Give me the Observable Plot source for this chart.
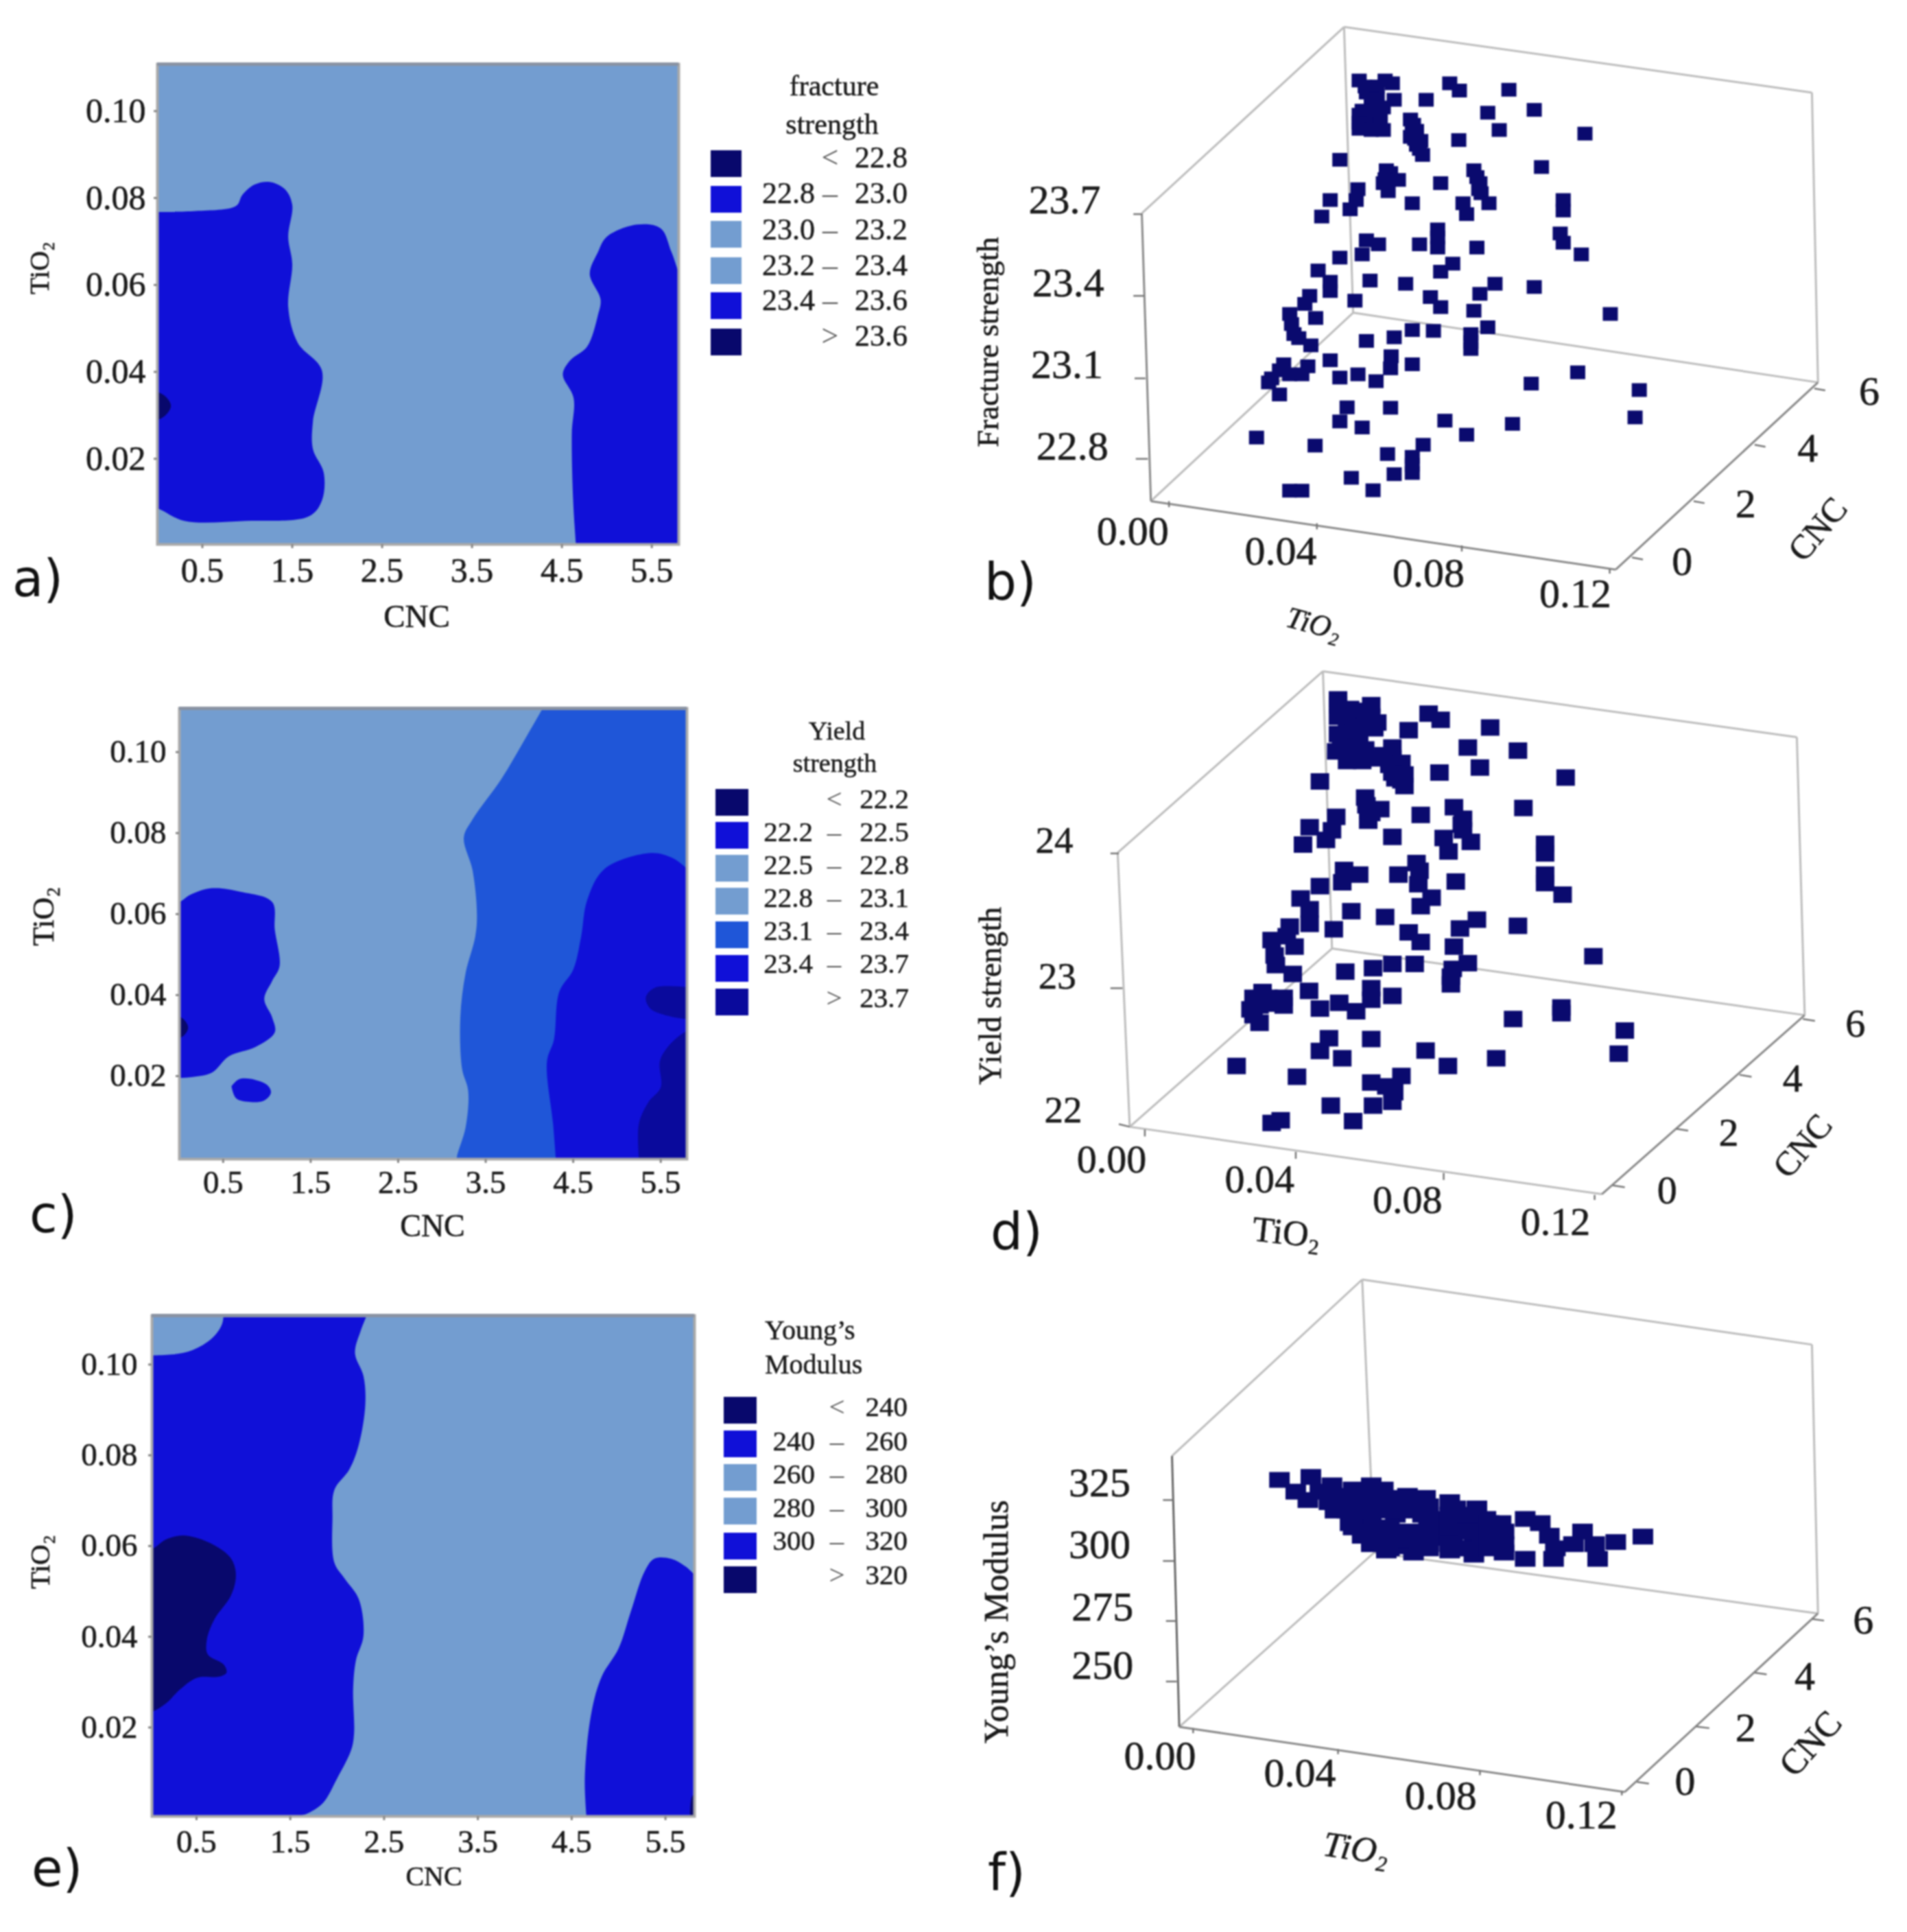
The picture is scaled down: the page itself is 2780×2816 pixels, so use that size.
<!DOCTYPE html>
<html>
<head>
<meta charset="utf-8">
<script src="https://cdn.jsdelivr.net/npm/d3@7"></script>
<script src="https://cdn.jsdelivr.net/npm/@observablehq/plot@0.6"></script>
<style>
html,body{margin:0;padding:0;background:#fff}
#page{position:relative;width:2780px;height:2816px;overflow:hidden;background:#fff;filter:blur(0.9px)}
#page svg{position:absolute;background:transparent;overflow:visible}
#page svg text{stroke:#1a1a1a;stroke-width:0.6px}
.t{position:absolute;white-space:pre;color:#1a1a1a;font-family:"Liberation Serif",serif;line-height:1;-webkit-text-stroke:0.5px #1a1a1a}
.s{position:absolute}
</style>
</head>
<body>
<div id="page"></div>
<script>
// ---------- colours ----------
const LIGHT="#739dd0", BLUE="#1010d8", MID="#1f56d8", NAVY="#08086c", DEEP="#0a0a9c", MARK="#0a0a6e";

// ---------- contour regions: [CNC, TiO2] ----------
const aLeftBlue=[[-.11,.0768],[.43,.077],[.876,.0782],[.944,.0807],[1.08,.0831],[1.25,.0837],[1.42,.082],[1.5,.0784],[1.455,.0711],[1.5,.0648],[1.455,.0549],[1.56,.0467],[1.83,.0403],[1.73,.0286],[1.73,.0222],[1.85,.0168],[1.83,.0104],[1.69,.0068],[.98,.0057],[.3,.0057],[.01,.0085],[-.11,.0091]];
const aLeftNavy=[[-.05,.0358],[.08,.0345],[.15,.0322],[.08,.0298],[-.05,.0285]];
const aRightBlue=[[4.66,-.001],[4.625,.0104],[4.61,.0258],[4.63,.034],[4.51,.0394],[4.59,.0426],[4.78,.0458],[4.9,.053],[4.93,.0567],[4.81,.0625],[4.9,.0675],[5,.0711],[5.34,.0739],[5.6,.073],[5.72,.0675],[5.85,.0612],[5.95,.061],[5.95,-.01],[4.66,-.01]];

const cMidBlue=[[4.17,.112],[3.93,.103],[3.68,.0939],[3.35,.0839],[3.25,.0794],[3.35,.0713],[3.4,.0604],[3.38,.0549],[3.27,.0459],[3.21,.035],[3.23,.0223],[3.3,.0168],[3.27,.0078],[3.17,.0005],[3.17,-.0013],[3.17,-.01],[6,-.01],[6,.12],[4.17,.12]];
const cRightBlue=[[4.3,.0005],[4.27,.0087],[4.2,.0241],[4.28,.0295],[4.34,.0413],[4.5,.0468],[4.59,.0549],[4.66,.064],[4.86,.0717],[5.39,.0756],[5.63,.0744],[5.8,.0717],[5.88,.07],[6,.07],[6,-.01],[4.3,-.01]];
const cDeepLow=[[5.25,.0005],[5.25,.0087],[5.36,.0141],[5.5,.0177],[5.49,.0241],[5.58,.0277],[5.77,.0313],[5.88,.032],[6,.03],[6,-.01],[5.25,-.01]];
const cDeepHigh=[[5.83,.0424],[5.44,.0424],[5.33,.04],[5.38,.0372],[5.58,.0354],[5.83,.0345],[6,.0345],[6,.0424]];
const cLeftBlue=[[-.07,.0635],[0,.0635],[.127,.0653],[.374,.0669],[.705,.066],[1.06,.0635],[1.09,.0567],[1.145,.0477],[1.06,.044],[.97,.0395],[1.06,.035],[1.09,.0313],[.87,.0277],[.567,.0254],[.374,.0214],[.154,.0203],[-.07,.02]];
const cLeftNavy=[[-.05,.0358],[.05,.0345],[.1,.0325],[.05,.0305],[-.05,.0295]];
const cIslandBlue=[[.595,.018],[.678,.0197],[.815,.0198],[1.008,.0182],[1.046,.0164],[.97,.0145],[.815,.0141],[.65,.015],[.595,.018]];

const eLeftBlue=[[2.33,.1115],[2.25,.1074],[2.19,.1025],[2.28,.0975],[2.3,.0913],[2.23,.0823],[2.13,.0769],[1.97,.0724],[1.95,.0662],[1.97,.0563],[2.08,.0528],[2.23,.0483],[2.28,.0402],[2.2,.0348],[2.17,.0285],[2.18,.0187],[2.15,.0151],[2,.0088],[1.85,.0034],[1.69,.0011],[1.54,-.0002],[1.4,-.01],[-.1,-.01],[-.1,.118],[2.33,.118]];
const eCornerLight=[[-.05,.102],[.23,.1022],[.46,.1032],[.666,.1058],[.77,.1088],[.79,.1115],[.79,.118],[-.05,.118]];
const eLeftNavy=[[-.05,.059],[.04,.0595],[.18,.0615],[.38,.0623],[.67,.0604],[.87,.0572],[.92,.0537],[.87,.0492],[.69,.0438],[.61,.0393],[.62,.0361],[.79,.0339],[.82,.0321],[.74,.0312],[.51,.031],[.33,.0285],[.18,.0254],[.04,.0236],[-.05,.0232]];
const eRightBlue=[[4.66,-.0002],[4.64,.0088],[4.71,.0232],[4.82,.0312],[5,.0374],[5.13,.0455],[5.28,.0545],[5.38,.0572],[5.56,.0572],[5.72,.0554],[5.81,.0537],[5.9,.0526],[6,.0526],[6,-.01],[4.66,-.01]];
const eCornerNavy=[[5.76,-.001],[5.79,.005],[5.85,.005],[5.85,-.001]];

// ---------- tick lists ----------
const cncTicks=[.5,1.5,2.5,3.5,4.5,5.5];
const tioTicks=[.02,.04,.06,.08,.10];

// ---------- scatter clouds: position on the picture plane of each 3-D view ----------
const bPoints=[[660,165],[703,165],[715,172],[810,172],[826,190],[908,188],[672,195],[670,180],[690,180],[680,210],[690,210],[680,225],[718,213],[771,213],[700,232],[680,240],[665,240],[672,255],[660,250],[660,270],[685,265],[695,265],[670,272],[660,285],[680,288],[700,288],[873,245],[950,238],[745,262],[750,275],[748,292],[755,290],[892,288],[1034,297],[752,310],[745,305],[762,315],[825,313],[755,325],[760,335],[765,350],[628,362],[705,388],[712,395],[850,388],[703,410],[700,420],[725,412],[962,380],[795,420],[860,420],[855,405],[708,440],[862,445],[858,435],[658,435],[612,462],[655,462],[645,485],[598,503],[748,470],[832,470],[875,470],[838,497],[998,462],[998,488],[790,535],[672,562],[692,572],[790,555],[760,572],[790,580],[993,545],[998,568],[855,580],[665,597],[628,605],[1028,597],[815,620],[795,640],[592,637],[612,665],[612,688],[678,662],[737,670],[885,670],[950,678],[860,695],[578,700],[570,720],[653,712],[778,703],[795,728],[850,737],[1076,745],[545,745],[588,755],[548,770],[552,795],[560,805],[580,823],[748,785],[783,787],[873,778],[845,795],[718,803],[672,812],[845,815],[845,832],[713,850],[712,880],[748,870],[612,860],[535,870],[528,885],[575,875],[565,895],[545,895],[515,905],[510,915],[628,903],[658,895],[688,912],[1022,890],[945,918],[528,945],[1124,934],[640,977],[712,978],[628,1012],[665,1027],[802,1010],[914,1018],[1117,1002],[838,1045],[490,1052],[587,1072],[766,1070],[707,1093],[748,1100],[748,1120],[748,1140],[718,1143],[647,1152],[683,1183],[545,1184],[565,1184]];
const dPoints=[[625,105],[625,120],[645,130],[665,135],[680,120],[775,142],[795,158],[635,135],[625,150],[650,150],[680,150],[690,165],[655,170],[640,175],[670,175],[640,200],[625,195],[650,190],[685,180],[742,185],[877,178],[630,215],[660,205],[622,240],[635,230],[655,230],[670,235],[715,230],[840,230],[923,238],[650,255],[680,258],[700,250],[640,265],[665,265],[715,258],[710,275],[730,270],[725,285],[860,282],[793,295],[715,295],[735,300],[1002,308],[595,318],[720,310],[730,315],[735,330],[670,360],[672,380],[675,395],[680,400],[695,390],[817,385],[932,387],[762,405],[622,410],[675,420],[832,415],[830,430],[578,437],[832,445],[615,445],[605,470],[800,465],[715,462],[845,475],[567,482],[968,480],[968,505],[808,500],[755,530],[635,548],[660,560],[725,560],[760,550],[632,580],[820,578],[758,585],[968,560],[968,582],[595,590],[997,612],[780,620],[762,642],[563,622],[578,650],[578,688],[647,655],[703,670],[855,677],[923,693],[827,700],[545,695],[540,720],[618,702],[742,710],[762,735],[817,747],[1048,772],[515,730],[553,747],[520,770],[522,795],[550,818],[715,792],[752,792],[840,790],[815,805],[683,803],[637,812],[812,825],[812,845],[680,855],[680,885],[715,875],[577,862],[500,865],[510,880],[485,880],[535,880],[515,895],[495,900],[535,900],[480,910],[485,925],[595,908],[627,893],[655,915],[495,945],[995,905],[995,920],[915,935],[1100,965],[610,985],[680,987],[595,1018],[632,1037],[770,1017],[887,1037],[1090,1025],[807,1057],[457,1057],[557,1085],[730,1083],[680,1100],[705,1110],[718,1125],[715,1150],[683,1160],[613,1160],[650,1200],[515,1205],[530,1198]];
const fPoints=[[528,517],[580,510],[615,530],[595,545],[555,545],[575,565],[610,570],[640,555],[680,530],[700,540],[740,555],[770,560],[640,590],[670,580],[700,570],[720,600],[765,600],[742,590],[800,610],[820,585],[855,585],[870,610],[645,620],[680,610],[710,630],[742,640],[780,630],[830,630],[860,630],[895,620],[935,610],[960,620],[665,650],[700,670],[740,675],[775,670],[815,660],[850,665],[895,650],[975,650],[1030,640],[1085,665],[1130,652],[705,685],[750,690],[810,685],[850,695],[900,690],[935,705],[982,705],[985,680],[1015,670],[1050,670],[1055,705],[800,655],[760,650],[830,680],[620,560],[620,590],[650,540],[650,570],[650,600],[650,630],[680,550],[680,580],[680,640],[680,670],[710,560],[710,590],[710,650],[710,680],[775,580],[775,610],[775,640],[775,680],[810,570],[810,600],[810,630],[810,670],[840,600],[840,640],[840,680],[875,620],[875,650],[875,680],[900,640],[900,670],[742,660],[742,570],[725,660]];

// ---------- labels ----------
const bValueTicks=["22.8","23.1","23.4","23.7"];
const dValueTicks=["22","23","24"];
const fValueTicks=["250","275","300","325"];
const tioTickLabels=["0.00","0.04","0.08","0.12"];
const cncTickLabels=["0","2","4","6"];

const aLegendRows=[["","<","22.8"],["22.8","–","23.0"],["23.0","–","23.2"],["23.2","–","23.4"],["23.4","–","23.6"],["",">","23.6"]];
const cLegendRows=[["","<","22.2"],["22.2","–","22.5"],["22.5","–","22.8"],["22.8","–","23.1"],["23.1","–","23.4"],["23.4","–","23.7"],["",">","23.7"]];
const eLegendRows=[["","<","240"],["240","–","260"],["260","–","280"],["280","–","300"],["300","–","320"],["",">","320"]];
const aLegendColors=[NAVY,BLUE,LIGHT,LIGHT,BLUE,NAVY];
const cLegendColors=[NAVY,BLUE,LIGHT,LIGHT,MID,BLUE,DEEP];
const eLegendColors=[NAVY,BLUE,LIGHT,LIGHT,BLUE,NAVY];

// ---------- drawing ----------
const page=document.getElementById("page");
const FONT='"Liberation Serif", serif';

function place(svg,left,top){svg.style.left=left+"px";svg.style.top=top+"px";page.appendChild(svg);}

function div(text,left,baseline,size,opts={}){
  const el=document.createElement("div");
  el.className="t";
  el.textContent=text;
  const fam=opts.family||FONT;
  el.style.fontFamily=fam;
  el.style.fontSize=size+"px";
  const k=opts.sans?0.846:0.8375;
  el.style.top=(baseline-k*size)+"px";
  if(opts.align==="right"){el.style.left=(left-400)+"px";el.style.width="400px";el.style.textAlign="right";}
  else if(opts.align==="center"){el.style.left=(left-200)+"px";el.style.width="400px";el.style.textAlign="center";}
  else el.style.left=left+"px";
  if(opts.color)el.style.color=opts.color;
  if(opts.thin)el.style.webkitTextStroke="0";
  page.appendChild(el);
}

function region(pts,fill,curve="catmull-rom"){
  return Plot.line(pts,{x:d=>d[0],y:d=>d[1],fill,stroke:"none",curve,clip:true});
}

function contour(c){
  const [L,R,B,T]=c.frame;
  const left=0, top=T-60, width=R+30, height=B-T+60+170;
  const xInv=px=>c.xDomain[0]+(px-L)/(R-L)*(c.xDomain[1]-c.xDomain[0]);
  const yInv=px=>c.yDomain[0]+(B-px)/(B-T)*(c.yDomain[1]-c.yDomain[0]);
  const svg=Plot.plot({
    width,height,
    marginLeft:L-left,marginRight:width-(R-left),marginTop:T-top,marginBottom:height-(B-top),
    style:{fontFamily:FONT,color:"#1a1a1a",background:"transparent"},
    x:{domain:c.xDomain,axis:null},
    y:{domain:c.yDomain,axis:null},
    marks:[
      Plot.frame({fill:LIGHT,stroke:"none"}),
      ...c.regions,
      Plot.frame({stroke:"#a9a9a9",strokeWidth:4}),
      Plot.ruleY([c.yDomain[1]],{stroke:"#8a93a3",strokeWidth:5}),
      Plot.axisX({ticks:cncTicks,tickFormat:d3.format(".1f"),tickSize:6,tickPadding:c.xPad,fontSize:c.tickSize,label:null,stroke:"#888",strokeWidth:3,fill:"#1a1a1a"}),
      Plot.axisY({ticks:tioTicks,tickFormat:d3.format(".2f"),tickSize:5,tickPadding:c.yPad,fontSize:c.tickSize,label:null,stroke:"#888",strokeWidth:3,fill:"#1a1a1a",textStroke:"none",dy:c.yDy||0}),
      Plot.text(["CNC"],{x:xInv(c.xLabel[0]),y:yInv(c.xLabel[1]),fontSize:c.xLabelSize,fill:"#1a1a1a"}),
      Plot.text(["TiO₂"],{x:xInv(c.yLabel[0]),y:yInv(c.yLabel[1]),rotate:-90,fontSize:c.yLabelSize,fill:"#1a1a1a"})
    ]
  });
  place(svg,left,top);
}

function legend(l){
  l.titles.forEach(t=>div(t.text,t.x,t.baseline,l.titleSize,{align:t.align}));
  l.rows.forEach((r,i)=>{
    const s=document.createElement("div");
    s.className="s";
    s.style.cssText=`left:${l.swatch[0]}px;top:${l.centers[i]-l.swatchH/2}px;width:${l.swatch[1]-l.swatch[0]}px;height:${l.swatchH}px;background:${l.colors[i]}`;
    page.appendChild(s);
    if(r[0])div(r[0],l.lowRight,l.baselines[i],l.size,{align:"right"});
    div(r[1],l.mid,l.baselines[i],l.size,{align:"center",color:"#555",thin:true});
    div(r[2],l.highRight,l.baselines[i],l.size,{align:"right"});
  });
}

function box(x1,y1,x2,y2,color){return {x1,y1,x2,y2,color};}

function view3d(v){
  const markSymbol={draw(ctx){ctx.rect(-v.mark[0]/2,-v.mark[1]/2,v.mark[0],v.mark[1]);}};
  const svg=Plot.plot({
    width:v.width,height:v.height,marginLeft:0,marginRight:0,marginTop:0,marginBottom:0,
    style:{fontFamily:FONT,background:"transparent"},
    x:{domain:[0,1568],range:[0,v.width],axis:null},
    y:{domain:[0,1568],range:[0,v.height],axis:null},
    marks:[
      Plot.link(v.edges,{x1:"x1",y1:"y1",x2:"x2",y2:"y2",stroke:d=>d.color,strokeWidth:3}),
      Plot.link(v.ticks,{x1:d=>d[0],y1:d=>d[1],x2:d=>d[2],y2:d=>d[3],stroke:"#777",strokeWidth:2.5}),
      Plot.dot(v.points,{x:d=>d[0],y:d=>d[1],symbol:markSymbol,r:5,fill:MARK,stroke:"none"}),
      ...v.labels.map(l=>Plot.text([l],{x:d=>d.x,y:d=>d.y,text:d=>d.t,fontSize:l.size,rotate:l.rot||0,fontStyle:l.italic?"italic":"normal",fill:"#1a1a1a"}))
    ]
  });
  place(svg,v.left,v.top);
}

function lab(t,x,y,size,rot,italic){return {t,x,y,size,rot,italic};}

// ---- panel a
contour({frame:[229,989,793,93],xDomain:[0,5.8],yDomain:[.0003,.1108],xPad:13,yPad:12,tickSize:50,
  xLabel:[607,898],yLabel:[58,390],xLabelSize:47,yLabelSize:40,
  regions:[region(aLeftBlue,BLUE),region(aLeftNavy,NAVY),region(aRightBlue,BLUE)]});
legend({titles:[{text:"fracture",x:1216,baseline:139,align:"center"},{text:"strength",x:1213,baseline:195,align:"center"}],titleSize:42,
  rows:aLegendRows,colors:aLegendColors,swatch:[1036,1081],swatchH:39,centers:[238,290,341,394,445,498],
  baselines:[245,297,350,402,453,505],size:44,lowRight:1188,mid:1210,highRight:1323});

// ---- panel c
contour({frame:[261,1001,1689,1032],xDomain:[0,5.8],yDomain:[0,.1113],xPad:10,yPad:14,tickSize:47,yDy:-3,
  xLabel:[630,1787],yLabel:[63,1335],xLabelSize:46,yLabelSize:45,
  regions:[region(cMidBlue,MID),region(cRightBlue,BLUE),region(cDeepLow,DEEP),region(cDeepHigh,DEEP),
           region(cLeftBlue,BLUE),region(cLeftNavy,NAVY),region(cIslandBlue,BLUE,"catmull-rom-closed")]});
legend({titles:[{text:"Yield",x:1220,baseline:1078,align:"center"},{text:"strength",x:1217,baseline:1125,align:"center"}],titleSize:38,
  rows:cLegendRows,colors:cLegendColors,swatch:[1043,1091],swatchH:39,centers:[1169,1217,1265.5,1313.5,1362.5,1411.5,1460],
  baselines:[1178,1226,1274,1322,1370,1418,1468],size:41,lowRight:1185,mid:1216,highRight:1325});

// ---- panel e
contour({frame:[221,1012,2647,1917],xDomain:[.025,5.81],yDomain:[.0004,.1108],xPad:13,yPad:16,tickSize:47,
  xLabel:[632,2735],yLabel:[58,2276],xLabelSize:40,yLabelSize:41,
  regions:[region(eLeftBlue,BLUE),region(eCornerLight,LIGHT),region(eLeftNavy,NAVY),region(eRightBlue,BLUE),region(eCornerNavy,NAVY)]});
legend({titles:[{text:"Young’s",x:1115,baseline:1952},{text:"Modulus",x:1115,baseline:2002}],titleSize:40,
  rows:eLegendRows,colors:eLegendColors,swatch:[1055,1103],swatchH:39,centers:[2055.5,2104,2153,2202,2253,2302],
  baselines:[2064,2114,2162,2211,2259,2309],size:41,lowRight:1188,mid:1220,highRight:1323});

// ---- panel b
const G="#bdbdbd", DK="#8a8a8a";
view3d({left:1400,top:20,width:1380,height:920,mark:[22,20],points:bPoints,
  edges:[box(635,32,1410,195,G),box(1410,195,1420,915,G),box(1420,915,650,742,G),box(650,742,315,1210,G),box(635,32,650,742,G),box(635,32,300,495,G),box(300,495,315,1210,DK),box(315,1210,1085,1380,DK),box(1085,1380,1420,915,DK)],
  ticks:[[286,497,300,497],[286,700,304,700],[288,905,306,905],[290,1105,310,1105],[345,1210,345,1225],[590,1265,590,1280],[830,1320,830,1335],[1075,1378,1075,1390],[1130,1355,1112,1350],[1232,1215,1214,1210],[1333,1075,1315,1070],[1432,935,1414,930]],
  labels:[...bValueTicks.map((t,i)=>lab(t,[185,176,178,172][i],[1075,872,668,462][i],60)),
    ...tioTickLabels.map((t,i)=>lab(t,[285,530,775,1018][i],[1285,1335,1390,1440][i],60)),
    ...cncTickLabels.map((t,i)=>lab(t,[1195,1300,1403,1505][i],[1360,1218,1080,938][i],60)),
    lab("CNC",1420,1280,50,-50),lab("TiO₂",585,1515,44,15,true),lab("Fracture strength",45,815,45,-90)]});

// ---- panel d
view3d({left:1400,top:960,width:1380,height:880,mark:[27,24],points:dPoints,
  edges:[box(600,32,1385,203,G),box(1385,203,1398,925,G),box(1398,925,615,752,G),box(615,752,280,1215,G),box(600,32,615,752,G),box(600,32,260,503,G),box(260,503,280,1215,G),box(280,1215,1062,1390,G),box(1062,1390,1398,925,DK)],
  ticks:[[248,505,262,505],[248,855,268,855],[262,1208,280,1215],[305,1222,305,1240],[555,1280,555,1298],[800,1335,800,1353],[1050,1392,1050,1405],[1100,1372,1080,1367],[1205,1225,1185,1220],[1310,1085,1290,1080],[1415,940,1395,935]],
  labels:[...dValueTicks.map((t,i)=>lab(t,[170,160,155][i],[1172,825,472][i],55)),
    ...tioTickLabels.map((t,i)=>lab(t,[250,495,740,985][i],[1300,1352,1405,1462][i],58)),
    ...cncTickLabels.map((t,i)=>lab(t,[1170,1272,1378,1482][i],[1380,1232,1090,948][i],58)),
    lab("CNC",1395,1265,50,-50),lab("TiO₂",540,1490,52,6),lab("Yield strength",50,875,46,-90)]});

// ---- panel f
view3d({left:1400,top:1840,width:1380,height:960,mark:[30,23],points:fPoints,
  edges:[box(665,40,1410,195,G),box(1410,195,1420,835,G),box(1420,835,685,690,G),box(685,690,362,1105,G),box(665,40,685,690,G),box(665,40,350,460,G),box(350,460,362,1105,"#666"),box(362,1105,1100,1260,DK),box(1100,1260,1420,835,DK)],
  ticks:[[335,565,352,565],[335,710,354,710],[340,853,356,853],[340,997,358,997],[385,1108,385,1120],[625,1158,625,1170],[860,1208,860,1220],[1095,1258,1095,1268],[1140,1240,1120,1236],[1240,1108,1218,1104],[1335,980,1315,976],[1430,852,1410,848]],
  labels:[...fValueTicks.map((t,i)=>lab(t,[235,235,230,230][i],[960,820,672,525][i],60)),
    ...tioTickLabels.map((t,i)=>lab(t,[330,562,795,1028][i],[1175,1215,1270,1315][i],60)),
    ...cncTickLabels.map((t,i)=>lab(t,[1200,1300,1398,1495][i],[1235,1108,985,852][i],60)),
    lab("CNC",1408,1145,52,-48),lab("TiO₂",655,1395,52,8,true),lab("Young’s Modulus",60,855,50,-90)]});

// ---- panel letters
const SANS='"DejaVu Sans", sans-serif';
[["a)",18,869],["b)",1435,874],["c)",43,1796],["d)",1444,1821],["e)",46,2749],["f)",1440,2755]].forEach(([t,x,y])=>div(t,x,y,74,{family:SANS,sans:true,color:"#111",thin:true}));
</script>
</body>
</html>
